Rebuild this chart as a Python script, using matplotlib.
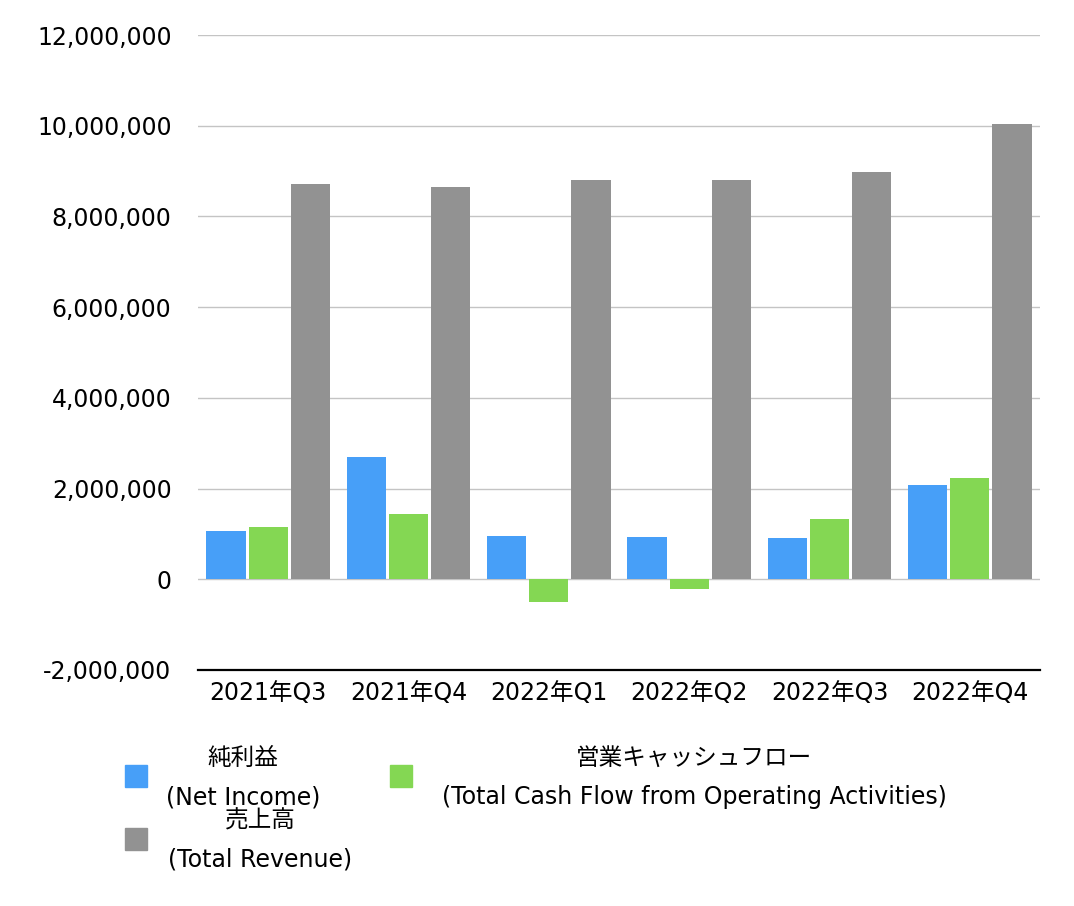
import matplotlib
matplotlib.use("Agg")
import matplotlib.pyplot as plt
from matplotlib.patches import Rectangle
from matplotlib.ticker import FuncFormatter
import numpy as np

categories = ["2021年Q3", "2021年Q4", "2022年Q1", "2022年Q2", "2022年Q3", "2022年Q4"]
net_income = [1060000, 2690000, 950000, 930000, 900000, 2070000]
op_cash_flow = [1150000, 1430000, -500000, -220000, 1320000, 2230000]
total_revenue = [8710000, 8640000, 8800000, 8800000, 8970000, 10030000]
series_jp = ["純利益", "営業キャッシュフロー", "売上高"]
series_en = ["(Net Income)", "(Total Cash Flow from Operating Activities)", "(Total Revenue)"]
colors = ["#479ff8", "#84d753", "#929292"]
yticks = [-2000000, 0, 2000000, 4000000, 6000000, 8000000, 10000000, 12000000]

plt.rcParams['font.family'] = ['DejaVu Sans', 'Noto Sans CJK JP']

W, H = 1074, 906
fig = plt.figure(figsize=(W / 100, H / 100), dpi=100)
ax = fig.add_axes([198 / W, (H - 670) / H, (1040 - 198) / W, (670 - 35) / H])

x = np.arange(len(categories))
bw = 0.28
step = 0.30
for i, vals in enumerate([net_income, op_cash_flow, total_revenue]):
    ax.bar(x + (i - 1) * step, vals, width=bw, color=colors[i], zorder=3)

ax.set_xlim(-0.5, len(categories) - 0.5)
ax.set_ylim(-2000000, 12000000)
ax.set_yticks(yticks)
ax.yaxis.set_major_formatter(FuncFormatter(lambda v, p: f"{int(v):,}"))
ax.set_xticks(x)
ax.set_xticklabels(categories)
ax.tick_params(axis='both', length=0, labelsize=17, colors='black')
ax.tick_params(axis='y', pad=19)
ax.tick_params(axis='x', pad=8)
ax.grid(axis='y', color='#c4c4c4', linewidth=1.0, zorder=0)
for s in ['left', 'right', 'top']:
    ax.spines[s].set_visible(False)
ax.spines['bottom'].set_color('black')
ax.spines['bottom'].set_linewidth(1.6)
ax.spines['bottom'].set_zorder(4)

# Legend (manual layout)
legend_items = [
    (125, 765, 243, 0),
    (390, 765, 694, 1),
    (125, 828, 260, 2),
]
for sx, sy, cx, k in legend_items:
    fig.patches.append(Rectangle((sx / W, (H - sy - 22) / H), 22 / W, 22 / H,
                                 transform=fig.transFigure, color=colors[k]))
    fig.text(cx / W, (H - sy + 7) / H, series_jp[k], ha='center', va='center', fontsize=17)
    fig.text(cx / W, (H - sy - 32) / H, series_en[k], ha='center', va='center', fontsize=17)

fig.savefig("out.png", dpi=100, facecolor='white')
